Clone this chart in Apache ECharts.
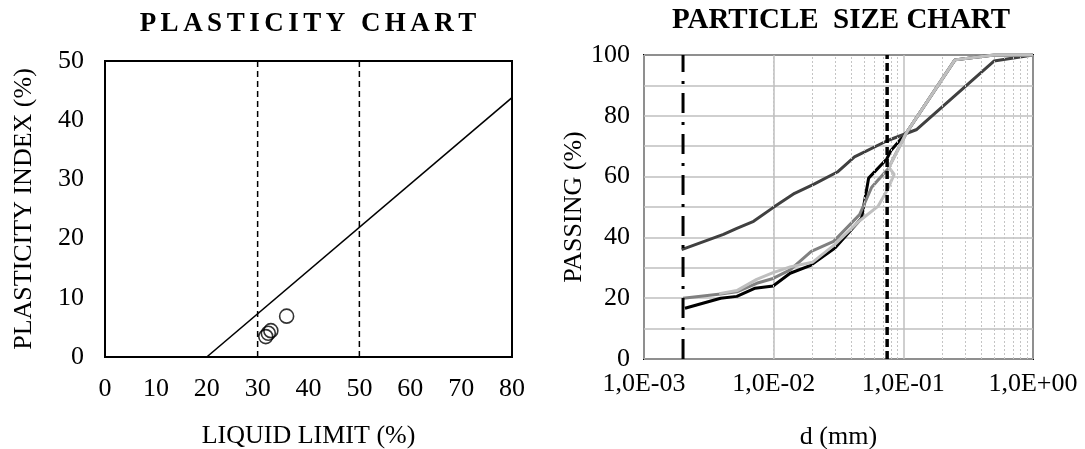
<!DOCTYPE html>
<html>
<head>
<meta charset="utf-8">
<script src="https://cdn.jsdelivr.net/npm/echarts@6/dist/echarts.min.js"></script>
<style>
  html, body { margin: 0; padding: 0; background: #fff; }
  #chart { width: 1085px; height: 449px; }
</style>
</head>
<body>
<div id="chart"></div>
<script>
// plasticity chart
const llRange = [0, 80]
const piRange = [0, 50]
const aLine = [[20, 0], [80, 43.8]]
const limitLines = [30, 50]
const samples = [[35.7, 6.9], [32.6, 4.45], [32.1, 4.0], [31.6, 3.45]]

// particle size chart
const dRange = [0.001, 1]
const clayLimit = 0.002
const siltLimit = 0.075
const minorGrid = [
  0.002, 0.003, 0.004, 0.005, 0.006, 0.007, 0.008, 0.009,
  0.02, 0.03, 0.04, 0.05, 0.06, 0.07, 0.08, 0.09,
  0.2, 0.3, 0.4, 0.5, 0.6, 0.7, 0.8, 0.9,
]
const curveBlack = [[0.00207, 16.7], [0.0039, 20.0], [0.0052, 20.6], [0.0072, 23.3], [0.0099, 24.0], [0.0134, 28.2], [0.0193, 30.8], [0.0297, 36.5], [0.0476, 46.3], [0.054, 59.5], [0.0745, 65.8], [0.08, 68.5], [0.106, 74.5], [0.25, 98.4], [0.5, 100], [1, 100]]
const curveDark = [[0.00195, 36], [0.0041, 41], [0.0052, 43], [0.007, 45.3], [0.0099, 49.8], [0.0145, 54.5], [0.0205, 57.5], [0.031, 61.5], [0.042, 66.5], [0.075, 71.8], [0.127, 75.5], [0.5, 98], [1, 100]]
const curveMedium = [[0.002, 20], [0.0039, 21.4], [0.0052, 22.1], [0.0074, 24.9], [0.0099, 26.5], [0.0134, 29.3], [0.0195, 35.4], [0.029, 38.7], [0.046, 47.5], [0.057, 56.5], [0.0766, 62.7], [0.106, 74.5], [0.25, 98.4], [0.5, 100], [1, 100]]
const curveLight = [[0.0038, 21.5], [0.0052, 22.5], [0.0074, 26.2], [0.0099, 28.4], [0.0134, 30.3], [0.0199, 31.8], [0.0297, 37.7], [0.0458, 45.4], [0.064, 50.3], [0.075, 55.5], [0.085, 60.7], [0.0775, 63], [0.106, 74.5], [0.25, 98.4], [0.5, 100], [1, 100]]

const font = 'Liberation Serif'
const spaced = (s) => s.split('').join('\u2006')

const formatExp = (v) => {
  const e = Math.round(Math.log10(v))
  return '1,0E' + (e < 0 ? '-' : '+') + String(Math.abs(e)).padStart(2, '0')
}

const vLine = (x, y0, y1) => [[x, y0], [x, y1]]

const chart = echarts.init(document.getElementById('chart'))

const labelStyle = { fontFamily: font, fontSize: 26, color: '#000' }
const nameStyle = { fontFamily: font, fontSize: 26, color: '#000' }

const option = {
  animation: false,
  backgroundColor: '#fff',
  textStyle: { fontFamily: font, color: '#000' },
  title: [
    {
      text: spaced('PLASTICITY CHART'),
      left: 303,
      top: 6,
      textAlign: 'center',
      textStyle: { fontFamily: font, fontWeight: 'bold', fontSize: 27, color: '#000' },
    },
    {
      text: 'PARTICLE  SIZE CHART',
      left: 836,
      top: 1,
      textAlign: 'center',
      textStyle: { fontFamily: font, fontWeight: 'bold', fontSize: 29, color: '#000' },
    },
  ],
  grid: [
    { left: 105, top: 61, width: 407, height: 296, outerBoundsMode: 'none', containLabel: false, show: true, borderColor: '#000', borderWidth: 2, backgroundColor: 'transparent' },
    { left: 644, top: 55, width: 389, height: 304, outerBoundsMode: 'none', containLabel: false, show: true, borderColor: '#000', borderWidth: 2, backgroundColor: 'transparent' },
  ],
  xAxis: [
    {
      gridIndex: 0,
      type: 'value',
      min: llRange[0],
      max: llRange[1],
      interval: 10,
      name: 'LIQUID LIMIT (%)',
      nameLocation: 'middle',
      nameGap: 66,
      nameTextStyle: nameStyle,
      axisLine: { show: false },
      axisTick: { show: false },
      splitLine: { show: false },
      axisLabel: { ...labelStyle, margin: 19 },
    },
    {
      gridIndex: 1,
      type: 'log',
      logBase: 10,
      min: dRange[0],
      max: dRange[1],
      interval: 1,
      name: 'd (mm)',
      nameLocation: 'middle',
      nameGap: 65,
      nameTextStyle: nameStyle,
      axisLine: { show: false },
      axisTick: { show: false },
      splitLine: { show: true, lineStyle: { color: '#bfbfbf', width: 1.5 } },
      axisLabel: { ...labelStyle, margin: 12, formatter: formatExp },
    },
  ],
  yAxis: [
    {
      gridIndex: 0,
      type: 'value',
      min: piRange[0],
      max: piRange[1],
      interval: 10,
      name: 'PLASTICITY INDEX (%)',
      nameLocation: 'middle',
      nameGap: 68,
      nameTextStyle: nameStyle,
      axisLine: { show: false },
      axisTick: { show: false },
      splitLine: { show: false },
      axisLabel: { ...labelStyle, margin: 21 },
    },
    {
      gridIndex: 1,
      type: 'value',
      min: 0,
      max: 100,
      interval: 10,
      name: 'PASSING (%)',
      nameLocation: 'middle',
      nameGap: 54,
      nameTextStyle: nameStyle,
      axisLine: { show: false },
      axisTick: { show: false },
      splitLine: { show: true, lineStyle: { color: '#bfbfbf', width: 1.5 } },
      axisLabel: {
        ...labelStyle,
        margin: 14,
        formatter: (v) => (v % 20 === 0 ? String(v) : ''),
      },
    },
  ],
  series: [
    // left chart
    ...limitLines.map((x) => ({
      type: 'line',
      xAxisIndex: 0,
      yAxisIndex: 0,
      data: vLine(x, piRange[0], piRange[1]),
      symbol: 'none',
      silent: true,
      lineStyle: { color: '#000', width: 1.5, type: [6, 4] },
    })),
    {
      type: 'line',
      xAxisIndex: 0,
      yAxisIndex: 0,
      data: aLine,
      symbol: 'none',
      lineStyle: { color: '#000', width: 1.6 },
    },
    {
      type: 'scatter',
      xAxisIndex: 0,
      yAxisIndex: 0,
      data: samples,
      symbol: 'circle',
      symbolSize: 14,
      itemStyle: { color: 'rgba(0,0,0,0)', borderColor: '#000', borderWidth: 1.6 },
    },
    // right chart
    {
      type: 'line',
      xAxisIndex: 1,
      yAxisIndex: 1,
      data: [],
      silent: true,
      markLine: {
        silent: true,
        symbol: 'none',
        label: { show: false },
        lineStyle: { color: '#c4c4c4', width: 1, type: [2, 2] },
        data: minorGrid.map((v) => ({ xAxis: v })),
      },
    },
    {
      type: 'line',
      xAxisIndex: 1,
      yAxisIndex: 1,
      data: curveBlack,
      symbol: 'none',
      lineStyle: { color: '#000', width: 3 },
    },
    {
      type: 'line',
      xAxisIndex: 1,
      yAxisIndex: 1,
      data: curveDark,
      symbol: 'none',
      lineStyle: { color: '#404040', width: 3 },
    },
    {
      type: 'line',
      xAxisIndex: 1,
      yAxisIndex: 1,
      data: curveMedium,
      symbol: 'none',
      lineStyle: { color: '#808080', width: 3 },
    },
    {
      type: 'line',
      xAxisIndex: 1,
      yAxisIndex: 1,
      data: curveLight,
      symbol: 'none',
      lineStyle: { color: '#bfbfbf', width: 3 },
    },
    {
      type: 'line',
      xAxisIndex: 1,
      yAxisIndex: 1,
      data: vLine(clayLimit, 0, 100),
      symbol: 'none',
      silent: true,
      lineStyle: { color: '#000', width: 3, type: [20, 9, 3, 9] },
    },
    {
      type: 'line',
      xAxisIndex: 1,
      yAxisIndex: 1,
      data: vLine(siltLimit, 0, 100),
      symbol: 'none',
      silent: true,
      lineStyle: { color: '#000', width: 3.5, type: [8, 4] },
    },
  ],
}

chart.setOption(option)
</script>
</body>
</html>
